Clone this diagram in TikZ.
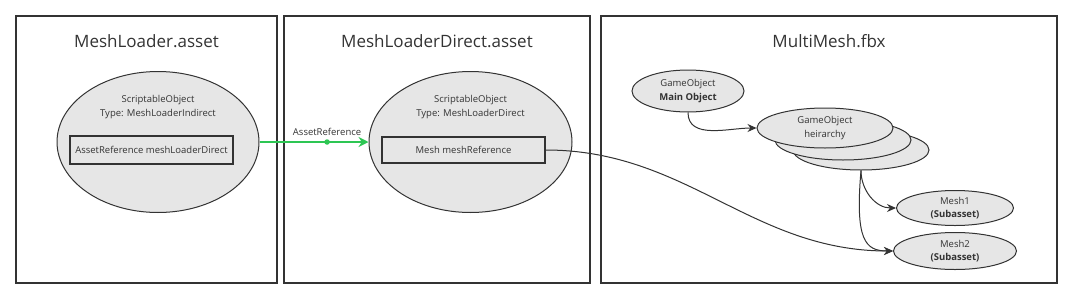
\documentclass[tikz,border=0pt]{standalone}
\usepackage{fontspec}
\setmainfont{Open Sans}
\usetikzlibrary{arrows.meta,shapes.geometric}
\definecolor{inkgray}{HTML}{333333}
\definecolor{objfill}{HTML}{E6E6E6}
\definecolor{refgreen}{HTML}{2DC653}
\begin{document}
\begin{tikzpicture}[x=1pt, y=-1pt,
        panel/.style = {draw=inkgray, line width=1.3pt},
        title/.style = {font=\fontsize{17}{20}\selectfont, text=inkgray},
        obj/.style = {ellipse, draw=inkgray, fill=objfill, line width=1pt, inner sep=0pt, align=center, font=\fontsize{9.5}{13.5}\selectfont, text=inkgray},
        field/.style = {rectangle, draw=inkgray, line width=1.1pt, inner sep=0pt, font=\fontsize{9.5}{11}\selectfont, text=inkgray},
        small/.style = {font=\fontsize{9.5}{14}\selectfont, text=inkgray, align=center},
        conn/.style = {draw=inkgray, line width=1pt, -{Stealth[length=9pt,width=8pt]}},
        refarrow/.style = {draw=refgreen, line width=2.5pt, -{Stealth[length=10pt,width=10pt]}},
        dot/.style = {circle, fill=refgreen, inner sep=0pt, minimum size=5.5pt}
    ]
    \useasboundingbox (0,0) rectangle (1072,303);

    % ================= PANELS =================
    \draw[panel] (16,16) rectangle (277,283);
    \draw[panel] (284,16) rectangle (590,283);
    \draw[panel] (601,16) rectangle (1057,283);

    \node[title] (loaderTitle) at (146.5,41) {MeshLoader.asset};
    \node[title] (directTitle) at (437,41) {MeshLoaderDirect.asset};
    \node[title] (multiTitle) at (829,41) {MultiMesh.fbx};

    % ================= MeshLoader.asset =================
    \node[obj, minimum width=202pt, minimum height=141pt] (loaderSO) at (158,142) {};
    \node[small] (loaderType) at (158,107) {ScriptableObject\\Type: MeshLoaderIndirect};
    \node[field, minimum width=163pt, minimum height=28pt] (loaderRef) at (151.5,150) {AssetReference meshLoaderDirect};

    % ================= MeshLoaderDirect.asset =================
    \node[obj, minimum width=203pt, minimum height=141pt] (directSO) at (470.5,142) {};
    \node[small] (directType) at (470.5,107) {ScriptableObject\\Type: MeshLoaderDirect};
    \node[field, minimum width=163pt, minimum height=26pt] (directRef) at (463.5,150) {Mesh meshReference};

    \draw[refarrow] (loaderSO.east) -- (directSO.west)
        node[dot, pos=0.62] (refDot) {}
        node[small, pos=0.62, above=2pt] (refLabel) {AssetReference};

    % ================= MultiMesh.fbx =================
    \node[obj, minimum width=112pt, minimum height=42pt] (mainObj) at (688,91) {GameObject\\\textbf{Main Object}};

    \node[obj, minimum width=136pt, minimum height=40pt] (stack3) at (861,150) {};
    \node[obj, minimum width=136pt, minimum height=40pt] (stack2) at (843,140) {};
    \node[obj, minimum width=136pt, minimum height=40pt] (hier) at (825,128) {GameObject\\heirarchy};

    \node[obj, minimum width=117pt, minimum height=35pt] (mesh1) at (955,208) {Mesh1\\\textbf{(Subasset)}};
    \node[obj, minimum width=123pt, minimum height=37pt] (mesh2) at (955,251) {Mesh2\\\textbf{(Subasset)}};

    \draw[conn] (mainObj.south) to[out=-90, in=180] (hier.west);
    \draw[conn] (stack3.south) to[out=-90, in=180] (mesh1.west);
    \draw[conn] (stack3.south) .. controls (855,240) and (865,251) .. (mesh2.west);

    % Referencia de malla entre archivos
    \draw[conn] (directRef.east) to[out=0, in=180] (mesh2.west);

\end{tikzpicture}
\end{document}
